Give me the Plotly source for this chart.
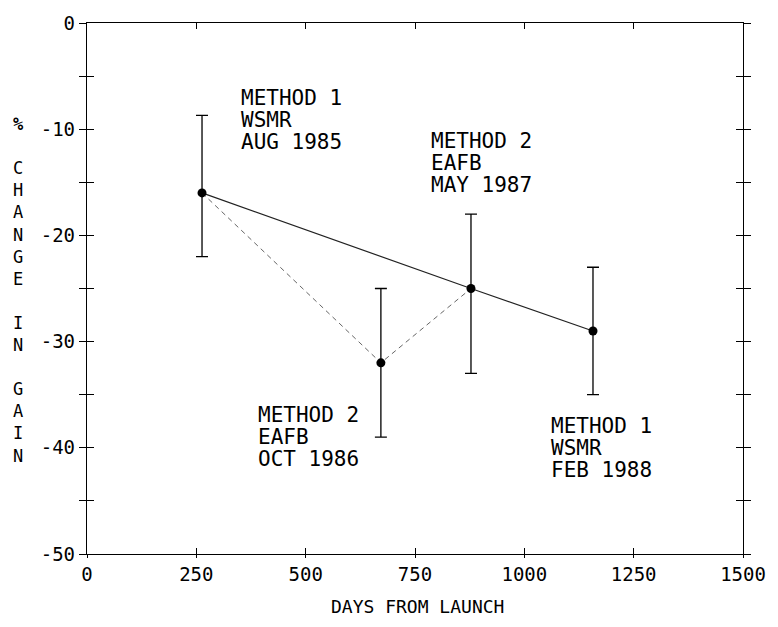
import plotly.graph_objects as go

# ---- data ----
days = [263, 672, 878, 1157]
gain = [-16.0, -32.0, -25.0, -29.0]
err_plus = [7.3, 7.0, 7.0, 6.0]
err_minus = [6.0, 7.0, 8.0, 6.0]

solid_idx = [0, 2, 3]      # method-consistent trend
dashed_idx = [0, 1, 2]     # chronological path

label_lines = [
    ["METHOD 1", "WSMR", "AUG 1985"],
    ["METHOD 2", "EAFB", "MAY 1987"],
    ["METHOD 2", "EAFB", "OCT 1986"],
    ["METHOD 1", "WSMR", "FEB 1988"],
]
label_x = [347, 783, 386, 1057]
label_y = [-7.1, -11.1, -36.9, -37.9]

x_ticks = [0, 250, 500, 750, 1000, 1250, 1500]
x_ticktext = ["0", "250", "500", "750", "1000", "1250", "1500"]
y_ticks = [0, -5, -10, -15, -20, -25, -30, -35, -40, -45, -50]
y_ticktext = ["0", "", "-10", "", "-20", "", "-30", "", "-40", "", "-50"]

y_title_chars = ["<b>%</b>", "\u00a0", "C", "H", "A", "N", "G", "E", "\u00a0", "I", "N", "\u00a0", "G", "A", "I", "N"]
x_title = "DAYS FROM LAUNCH"

MONO = "DejaVu Sans Mono"

fig = go.Figure()

fig.add_trace(go.Scatter(
    x=[days[i] for i in dashed_idx], y=[gain[i] for i in dashed_idx],
    mode="lines", line=dict(color="#666666", width=1, dash="5px,4px"),
    showlegend=False, hoverinfo="skip"))

fig.add_trace(go.Scatter(
    x=[days[i] for i in solid_idx], y=[gain[i] for i in solid_idx],
    mode="lines", line=dict(color="#222222", width=1.2),
    showlegend=False, hoverinfo="skip"))

fig.add_trace(go.Scatter(
    x=days, y=gain, mode="markers",
    marker=dict(color="black", size=9),
    error_y=dict(type="data", symmetric=False, array=err_plus, arrayminus=err_minus,
                 color="black", thickness=1.3, width=6),
    showlegend=False))

# invisible trace on overlay axes (for crossing ticks)
fig.add_trace(go.Scatter(x=[None], y=[None], xaxis="x2", yaxis="y2",
                         showlegend=False, hoverinfo="skip"))

for lines, lx, ly in zip(label_lines, label_x, label_y):
    for i, t in enumerate(lines):
        fig.add_annotation(x=lx, y=ly, xref="x", yref="y", text=t, showarrow=False,
                           xanchor="left", yanchor="middle", yshift=-22 * i,
                           font=dict(family=MONO, size=21, color="black"))

fig.add_annotation(x=-0.104, y=0.498, xref="paper", yref="paper",
                   text="<br>".join(y_title_chars), showarrow=False,
                   xanchor="center", yanchor="middle", align="center",
                   font=dict(family=MONO, size=17, color="black"))
fig.add_annotation(x=0.504, y=-0.099, xref="paper", yref="paper",
                   text=x_title, showarrow=False, xanchor="center", yanchor="middle",
                   font=dict(family=MONO, size=18, color="black"))

axis_font = dict(family=MONO, size=19, color="black")

fig.update_layout(
    width=778, height=627,
    margin=dict(l=87, r=30, t=17, b=73),
    paper_bgcolor="white", plot_bgcolor="white",
    xaxis=dict(range=[0, 1500], tickvals=x_ticks, ticktext=x_ticktext,
               ticks="outside", ticklen=3, tickwidth=1.2, tickcolor="black",
               showline=True, linecolor="black", linewidth=1.3, mirror=True,
               showgrid=False, zeroline=False, tickfont=axis_font),
    yaxis=dict(range=[-50, 0], tickvals=y_ticks, ticktext=y_ticktext,
               ticks="outside", ticklen=7, tickwidth=1.2, tickcolor="black",
               showline=True, linecolor="black", linewidth=1.3, mirror="ticks",
               showgrid=False, zeroline=False, tickfont=axis_font),
    xaxis2=dict(range=[0, 1500], overlaying="x", tickvals=x_ticks,
                ticks="inside", ticklen=6, tickwidth=1.2, tickcolor="black",
                mirror="ticks", showline=False, showticklabels=False,
                showgrid=False, zeroline=False),
    yaxis2=dict(range=[-50, 0], overlaying="y", tickvals=y_ticks,
                ticks="inside", ticklen=7, tickwidth=1.2, tickcolor="black",
                mirror="ticks", showline=False, showticklabels=False,
                showgrid=False, zeroline=False),
)

fig.write_html("out.html")
